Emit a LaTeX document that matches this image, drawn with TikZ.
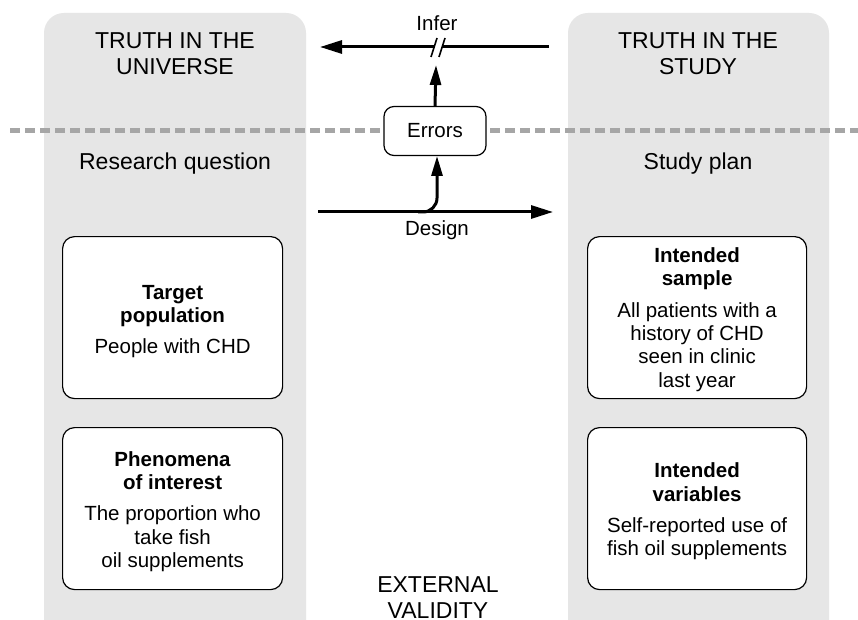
\documentclass[tikz,border=0pt]{standalone}
\usepackage{fontspec}
\setmainfont{Liberation Sans}
\usetikzlibrary{arrows.meta}
\definecolor{panel}{HTML}{E6E6E6}
\definecolor{dashgray}{HTML}{A6A6A6}
\begin{document}
\begin{tikzpicture}[x=1pt,y=-1pt,
  panelbox/.style={fill=panel,rounded corners=20pt},
  innerbox/.style={draw=black,line width=1.2pt,fill=white,rounded corners=12pt,minimum width=220pt,minimum height=162pt,anchor=north west},
  head/.style={font=\fontsize{23}{26}\selectfont,align=center,inner sep=0pt},
  sub/.style={font=\fontsize{23}{26}\selectfont,anchor=base,inner sep=0pt},
  boxtext/.style={font=\fontsize{20.5}{23.3}\selectfont,align=center,inner sep=0pt},
  lbl/.style={font=\fontsize{20.5}{24}\selectfont,anchor=base,inner sep=0pt},
  flow/.style={line width=3pt},
  bigtip/.style={-{Triangle[length=22pt,width=13pt]}},
  smalltip/.style={-{Triangle[length=20pt,width=11pt]}}]
\useasboundingbox (0,0) rectangle (858,620);
\fill[white] (0,0) rectangle (858,620);
% panels
\fill[panelbox] (44,13) rectangle (306,660);
\fill[panelbox] (568,13) rectangle (829,660);
% dashed divider
\draw[dashgray,line width=5pt,dash pattern=on 10pt off 5pt] (10,131) -- (858,131);
% headings
\node[head] (tu) at (175,54) {TRUTH IN THE\\UNIVERSE};
\node[head] (ts) at (698,54) {TRUTH IN THE\\STUDY};
\node[sub] (rq) at (175,170) {Research question};
\node[sub] (sp) at (698,170) {Study plan};
% inner boxes
\node[innerbox] (tp) at (62,236) {};
\node[boxtext] at ([yshift=-4pt]tp.center) {\textbf{Target}\\\textbf{population}\\[8pt]People with CHD};
\node[innerbox] (pi) at (62,427) {};
\node[boxtext] at ([yshift=-3pt]pi.center) {\textbf{Phenomena}\\\textbf{of interest}\\[8pt]The proportion who\\take fish\\oil supplements};
\node[innerbox,minimum width=219pt] (is) at (587,236) {};
\node[boxtext] at ([yshift=-2pt]is.center) {\textbf{Intended}\\\textbf{sample}\\[8pt]All patients with a\\history of CHD\\seen in clinic\\last year};
\node[innerbox,minimum width=219pt] (iv) at (587,427) {};
\node[boxtext] at ([yshift=-3pt]iv.center) {\textbf{Intended}\\\textbf{variables}\\[8pt]Self-reported use of\\fish oil supplements};
% errors box
\node[draw=black,line width=1.2pt,fill=white,rounded corners=10pt,minimum width=102pt,minimum height=49pt,font=\fontsize{20.5}{24}\selectfont] (err) at (435,131) {Errors};
% infer arrow
\coordinate (infR) at (549,47);
\coordinate (infL) at (320,47);
\draw[flow,bigtip] (infR) -- (infL);
\fill[white] (435,43) rectangle (442,51);
\draw[line width=1.6pt] (431,57) -- (437,38);
\draw[line width=1.6pt] (439,57) -- (445,38);
\node[lbl] (inf) at (437,31) {Infer};
\coordinate (errtop) at (436,65);
\draw[flow,smalltip] (err.north) -- (errtop);
% design arrow
\coordinate (desL) at (318,212);
\coordinate (desR) at (553,212);
\draw[flow,bigtip] (desL) -- (desR);
\draw[flow,smalltip,rounded corners=14pt] (418,212) -- (437,212) -- (437,156);
\node[lbl] (des) at (437,236) {Design};
% external validity
\node[head] (ev) at (438,598) {EXTERNAL\\VALIDITY};
\end{tikzpicture}
\end{document}
